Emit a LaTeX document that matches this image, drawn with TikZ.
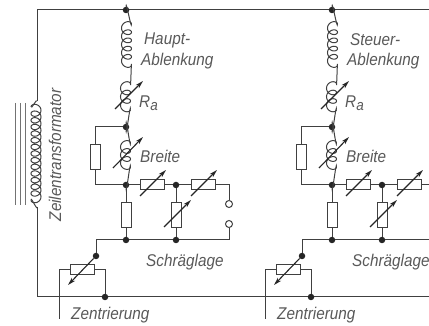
\documentclass[tikz,border=0pt]{standalone}
\usepackage{fontspec}
\setmainfont{Liberation Sans}
\usetikzlibrary{arrows.meta}
\definecolor{wirecol}{gray}{0.25}
\definecolor{labelcol}{gray}{0.35}
\tikzset{
	wire/.style={line width=1pt, color=wirecol},
	corewire/.style={line width=0.8pt, color=black!55},
	coilwire/.style={line width=1pt, color=wirecol},
	junction/.style={circle, fill=black!85, inner sep=0pt, minimum size=6.5pt},
	ring/.style={circle, draw=wirecol, line width=1pt, fill=white, inner sep=0pt, minimum size=7pt},
	reshoriz/.style={draw=wirecol, line width=1pt, fill=white, inner sep=0pt, minimum width=24pt, minimum height=10pt},
	resvert/.style={draw=wirecol, line width=1pt, fill=white, inner sep=0pt, minimum width=10pt, minimum height=25pt},
	varrow/.style={line width=1.1pt, color=black!85, -{Stealth[length=8pt,width=4.5pt]}},
	lab/.style={color=labelcol, inner sep=0pt, font=\fontsize{17}{17}\selectfont\itshape}
}
% #1 x of the axis, #2 first y, #3 turns, #4 pitch, #5 side of the straight wire (1 or -1)
\newcommand{\coilplot}[5]{\draw[coilwire] plot[domain=0:360*#3, samples=#3*24+1, smooth, variable=\t] ({#1+#5*5*cos(\t)},{#2+\t/360*#4-4.2*sin(\t)});}
\newcommand{\varres}[1]{\draw[varrow] ([shift={(-12,11)}]#1.center) -- ([shift={(14,-15)}]#1.center);}
\newcommand{\narrow}[1]{\scalebox{0.9}[1]{#1}}

\begin{document}
\begin{tikzpicture}[x=1pt, y=-1pt]
	\useasboundingbox (0,0) rectangle (429,326);
	\clip (0,0) rectangle (429,326);
	%%%%% FRAME %%%%%
	\coordinate (frameTL) at (37,10);
	\coordinate (frameBL) at (37,297);
	\coordinate (frameTR) at (429,10);
	\coordinate (frameBR) at (429,297);
	\coordinate (trafoT) at (37,101);
	\coordinate (trafoB) at (37,207);
	\draw[wire] (trafoT) -- (frameTL) -- (frameTR);
	\draw[wire] (trafoB) -- (frameBL) -- (frameBR);
	% transformer
	\coilplot{36}{107}{14}{6.65}{-1}
	\draw[coilwire] (trafoT) to[out=90, in=-90] (31,107);
	\draw[coilwire] (31,200) to[out=90, in=-90] (trafoB);
	\foreach \x in {15,20,25} \draw[corewire] (\x,103) -- (\x,205);
	\node[lab, rotate=90] (trafolab) at (55,155) {\narrow{Zeilentransformator}};
	%%%%% BRANCHES %%%%%
	\foreach \p/\dx/\nameA/\nameB in {a/0/Haupt-/Ablenkung, b/206/Steuer-/Ablenkung}{
		\begin{scope}[xshift=\dx pt]
			\node[junction] (\p top) at (126,10) {};
			\node[junction] (\p mid) at (126,127) {};
			\node[junction] (\p low) at (126,185) {};
			\node[junction] (\p tap) at (176,185) {};
			\node[junction] (\p sumA) at (126,240) {};
			\node[junction] (\p sumB) at (176,240) {};
			\node[junction] (\p wiper) at (96,256) {};
			\node[junction] (\p foot) at (105,297) {};
			\node[reshoriz] (\p hA) at (152,185) {};
			\node[reshoriz] (\p hB) at (203,185) {};
			\node[resvert] (\p vA) at (126,215) {};
			\node[resvert] (\p vB) at (176,215) {};
			\node[resvert] (\p par) at (95,157) {};
			\node[reshoriz] (\p pot) at (82.5,270) {};
			\coordinate (\p parT) at (95,127);
			\coordinate (\p parB) at (95,185);
			\coordinate (\p sumL) at (96,240);
			\coordinate (\p potL) at (59,270);
			\coordinate (\p potR) at (105,270);
			\coordinate (\p lead) at (59,319);
			\coordinate (\p tip) at (68,285);
			% coils
			\coilplot{126.5}{24}{5}{8.2}{1}
			\draw[coilwire] (\p top) to[out=90, in=-90] (131.5,24);
			\draw[coilwire] (131.5,65) to[out=90, in=-90] (130.5,84);
			\coilplot{125.5}{84}{3}{8.5}{1}
			\draw[coilwire] (130.5,109.5) to[out=90, in=-90] (\p mid);
			\coilplot{125.5}{143}{3}{8}{1}
			\draw[coilwire] (\p mid) to[out=90, in=-90] (130.5,143);
			\draw[coilwire] (130.5,167) to[out=90, in=-90] (\p low);
			% wires
			\draw[wire] (\p mid) -- (\p parT) -- (\p par);
			\draw[wire] (\p par) -- (\p parB) -- (\p low);
			\draw[wire] (\p low) -- (\p hA);
			\draw[wire] (\p hA) -- (\p tap);
			\draw[wire] (\p tap) -- (\p hB);
			\draw[wire] (\p low) -- (\p vA);
			\draw[wire] (\p vA) -- (\p sumA);
			\draw[wire] (\p tap) -- (\p vB);
			\draw[wire] (\p vB) -- (\p sumB);
			\draw[wire] (\p sumB) -- (\p sumA) -- (\p sumL) -- (\p wiper);
			\draw[wire] (\p pot) -- (\p potL) -- (\p lead);
			\draw[wire] (\p pot) -- (\p potR) -- (\p foot);
			% variable arrows
			\draw[varrow] (115,109) -- (143,81);
			\draw[varrow] (113,168) -- (143,137);
			\varres{\p hA}
			\varres{\p hB}
			\draw[varrow] ([shift={(-12,12)}]\p vB.center) -- ([shift={(15,-15)}]\p vB.center);
			\draw[varrow] (\p wiper) -- (\p tip);
			% labels
			\node[lab, anchor=west] (\p l1) at (144,40) {\narrow{\nameA}};
			\node[lab, anchor=west] (\p l2) at (141,61) {\narrow{\nameB}};
			\node[lab, anchor=west] (\p l3) at (139,103) {\narrow{R\raisebox{-3pt}{\fontsize{15}{15}\selectfont a}}};
			\node[lab, anchor=west] (\p l4) at (140,156) {\narrow{Breite}};
			\node[lab, anchor=west] (\p l5) at (146,262) {\narrow{Schräglage}};
			\node[lab, anchor=west] (\p l6) at (71,315) {\narrow{Zentrierung}};
		\end{scope}
	}
	%%%%% ENDS %%%%%
	\node[ring] (aringT) at (229,204) {};
	\node[ring] (aringB) at (229,224) {};
	\coordinate (acornT) at (229,185);
	\coordinate (acornB) at (229,240);
	\draw[wire] (ahB) -- (acornT) -- (aringT);
	\draw[wire] (aringB) -- (acornB) -- (asumB);
	\coordinate (bendT) at (429,185);
	\coordinate (bendB) at (429,240);
	\draw[wire] (bhB) -- (bendT);
	\draw[wire] (bsumB) -- (bendB);
\end{tikzpicture}
\end{document}
